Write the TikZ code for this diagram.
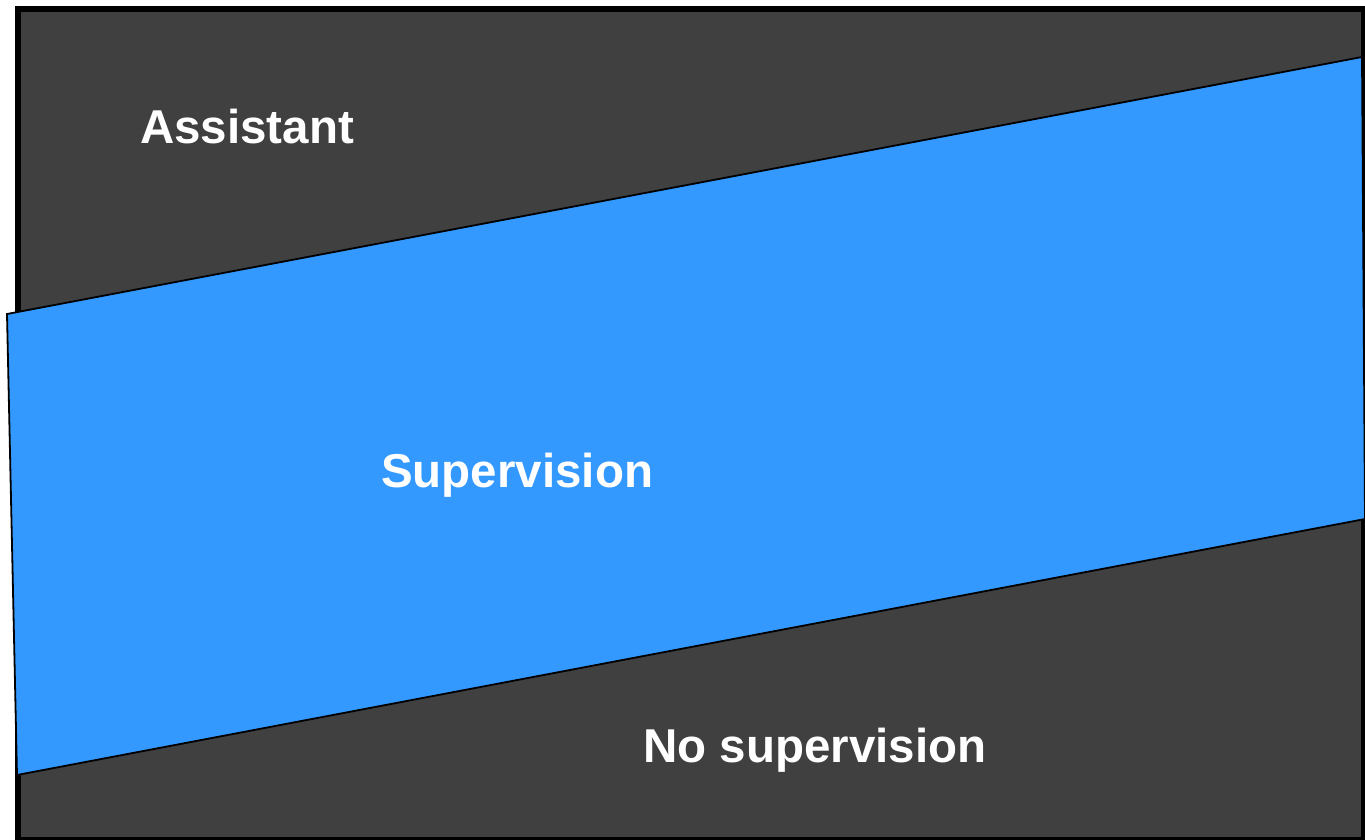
\documentclass[tikz,border=0pt]{standalone}
\usepackage{fontspec}
\setmainfont{Liberation Sans}
\definecolor{bggray}{RGB}{64,64,64}
\definecolor{superblue}{RGB}{51,153,255}
\tikzset{
  lbl/.style={anchor=base west, inner sep=0pt, text=white, font=\bfseries\fontsize{47.5}{52}\selectfont},
}
\begin{document}
\begin{tikzpicture}[x=1pt,y=-1pt]
\useasboundingbox (0,0) rectangle (1365,839);
\fill[white] (0,0) rectangle (1365,839);
% frame
\fill[black] (15,6) rectangle (1366,840);
\fill[bggray] (21,12) rectangle (1361,837);
% blue band
\coordinate (b1) at (7,314);
\coordinate (b2) at (1362,57);
\coordinate (b3) at (1365,519);
\coordinate (b4) at (17,775);
\draw[fill=superblue, draw=black, line width=1.8pt, line join=miter] (b1) -- (b2) -- (b3) -- (b4) -- cycle;
% labels
\node[lbl] (assistant) at (140,143) {Assistant};
\node[lbl] (supervision) at (381,487) {Supervision};
\node[lbl] (nosup) at (643,762) {No supervision};
\end{tikzpicture}
\end{document}
